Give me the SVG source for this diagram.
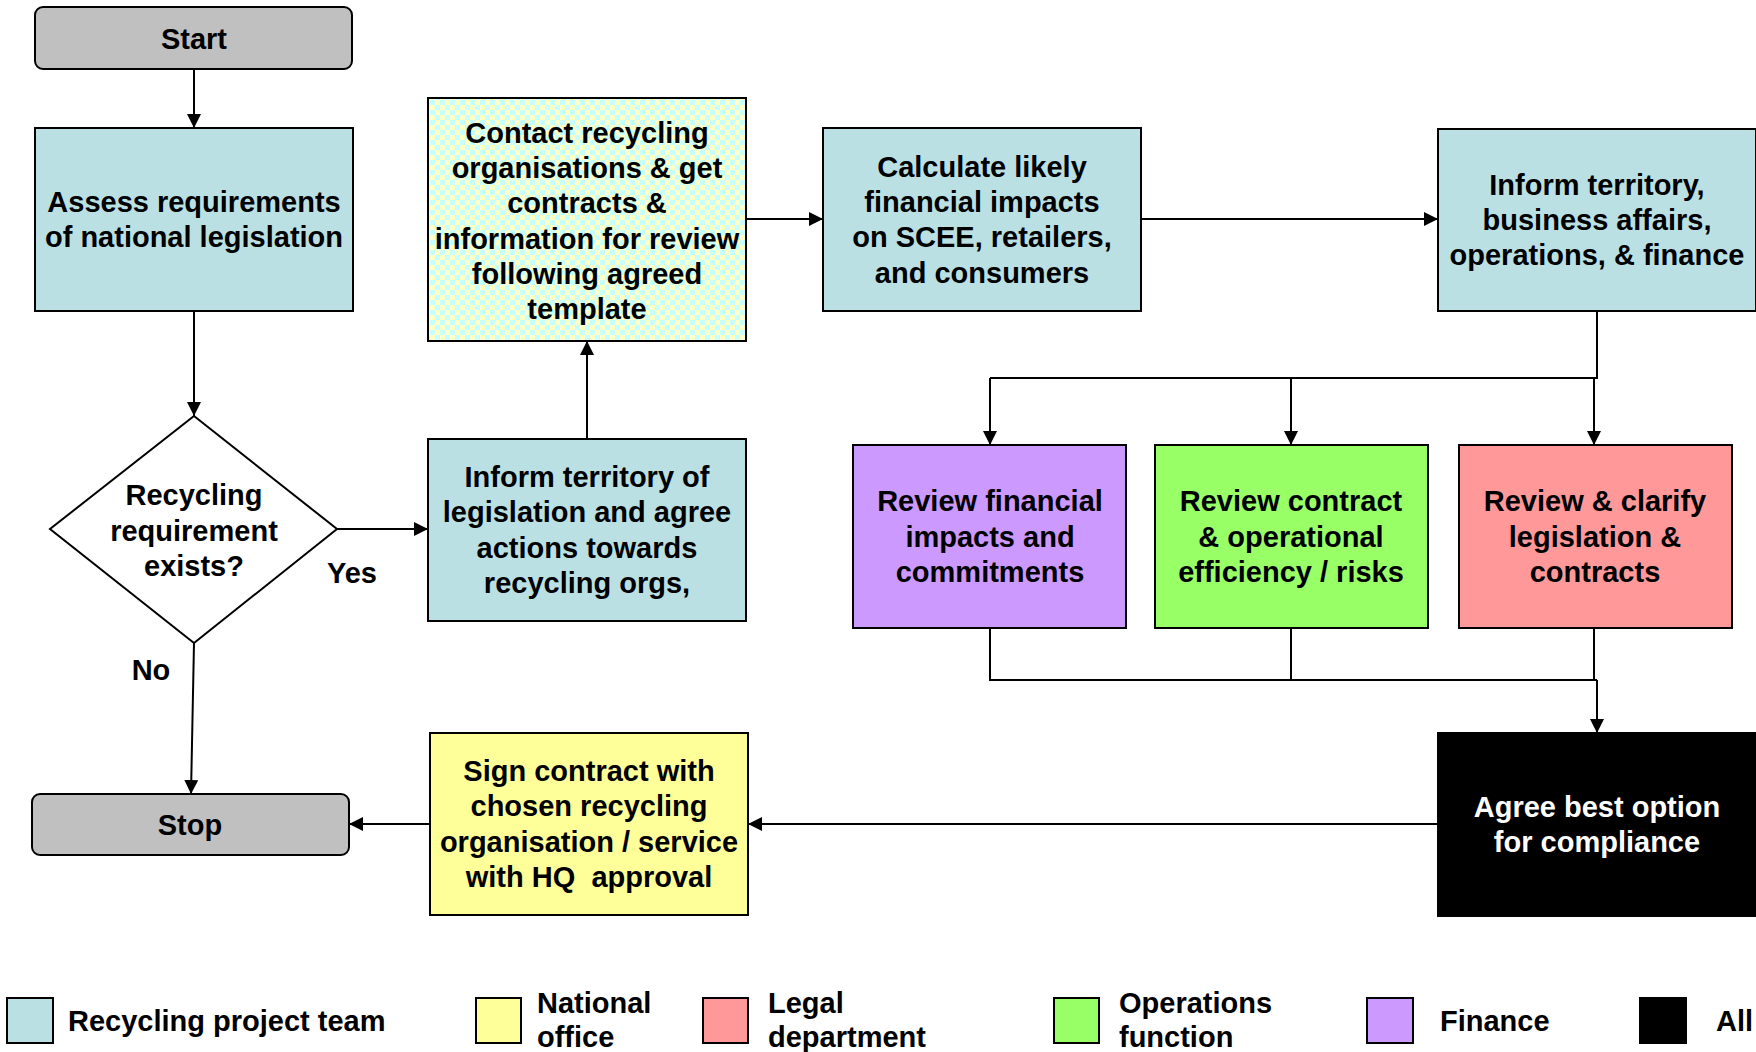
<svg xmlns="http://www.w3.org/2000/svg" width="1756" height="1052" viewBox="0 0 1756 1052">
<style>
text{font-family:"Liberation Sans",Arial,sans-serif;font-weight:bold;font-size:29px;fill:#000;text-anchor:middle}
.box{stroke:#000;stroke-width:2}
.teal{fill:#BBE0E3}
.grey{fill:#C0C0C0}
.purple{fill:#CC99FF}
.green{fill:#99FF66}
.red{fill:#FF9999}
.yellow{fill:#FFFF99}
.black{fill:#000}
.wt{fill:#fff}
.lg{text-anchor:start}
.con path{fill:none;stroke:#000;stroke-width:2}
.arr{marker-end:url(#ah)}
</style>
<defs>
<marker id="ah" viewBox="0 0 14 14" refX="14" refY="7" markerWidth="14" markerHeight="14" markerUnits="userSpaceOnUse" orient="auto">
<path d="M0,0 L14,7 L0,14 z" fill="#000"/>
</marker>
<pattern id="chk" width="10" height="10" patternUnits="userSpaceOnUse">
<rect width="10" height="10" fill="#FFFFC6"/>
<rect width="5" height="5" fill="#C6FFFF"/>
<rect x="5" y="5" width="5" height="5" fill="#C6FFFF"/>
</pattern>
</defs>
<rect width="1756" height="1052" fill="#fff"/>

<g id="connectors" class="con">
<path class="arr" d="M194,69 L194,128"/>
<path class="arr" d="M194,311 L194,416"/>
<path class="arr" d="M337,529 L428,529"/>
<path class="arr" d="M587,439 L587,341"/>
<path class="arr" d="M746,219 L823,219"/>
<path class="arr" d="M1141,219 L1438,219"/>
<path d="M1597,311 L1597,378 L990,378"/>
<path class="arr" d="M990,378 L990,445"/>
<path class="arr" d="M1291,378 L1291,445"/>
<path class="arr" d="M1594,378 L1594,445"/>
<path d="M990,628 L990,680 L1597,680"/>
<path d="M1291,628 L1291,680"/>
<path d="M1594,628 L1594,680"/>
<path class="arr" d="M1597,680 L1597,733"/>
<path class="arr" d="M1438,824 L748,824"/>
<path class="arr" d="M430,824 L349,824"/>
<path class="arr" d="M194,643 L191,794"/>
<text x="352" y="583">Yes</text>
<text x="151" y="680">No</text>
</g>

<g id="start">
<rect class="box grey" x="35" y="7" width="317" height="62" rx="8"/>
<text x="194" y="49">Start</text>
</g>

<g id="assess">
<rect class="box teal" x="35" y="128" width="318" height="183"/>
<text x="194" y="212">Assess requirements</text>
<text x="194" y="247">of national legislation</text>
</g>

<g id="decision">
<polygon class="box" fill="#fff" points="194,416 337,529 194,643 50,529"/>
<text x="194" y="505">Recycling</text>
<text x="194" y="541">requirement</text>
<text x="194" y="576">exists?</text>
</g>

<g id="inform-legislation">
<rect class="box teal" x="428" y="439" width="318" height="182"/>
<text x="587" y="487">Inform territory of</text>
<text x="587" y="522">legislation and agree</text>
<text x="587" y="558">actions towards</text>
<text x="587" y="593">recycling orgs,</text>
</g>

<g id="contact">
<rect class="box" fill="url(#chk)" x="428" y="98" width="318" height="243"/>
<text x="587" y="143">Contact recycling</text>
<text x="587" y="178">organisations &amp; get</text>
<text x="587" y="213">contracts &amp; </text>
<text x="587" y="249">information for review</text>
<text x="587" y="284">following agreed</text>
<text x="587" y="319">template</text>
</g>

<g id="calculate">
<rect class="box teal" x="823" y="128" width="318" height="183"/>
<text x="982" y="177">Calculate likely</text>
<text x="982" y="212">financial impacts</text>
<text x="982" y="247">on SCEE, retailers,</text>
<text x="982" y="283">and consumers</text>
</g>

<g id="inform-all">
<rect class="box teal" x="1438" y="129" width="318" height="182"/>
<text x="1597" y="195">Inform territory,</text>
<text x="1597" y="230">business affairs,</text>
<text x="1597" y="265">operations, &amp; finance</text>
</g>

<g id="review-financial">
<rect class="box purple" x="853" y="445" width="273" height="183"/>
<text x="990" y="511">Review financial</text>
<text x="990" y="547">impacts and</text>
<text x="990" y="582">commitments</text>
</g>

<g id="review-contract">
<rect class="box green" x="1155" y="445" width="273" height="183"/>
<text x="1291" y="511">Review contract</text>
<text x="1291" y="547">&amp; operational</text>
<text x="1291" y="582">efficiency / risks</text>
</g>

<g id="review-legal">
<rect class="box red" x="1459" y="445" width="273" height="183"/>
<text x="1595" y="511">Review &amp; clarify</text>
<text x="1595" y="547">legislation &amp;</text>
<text x="1595" y="582">contracts</text>
</g>

<g id="agree">
<rect class="box black" x="1438" y="733" width="318" height="183"/>
<text class="wt" x="1597" y="817">Agree best option</text>
<text class="wt" x="1597" y="852">for compliance</text>
</g>

<g id="sign">
<rect class="box yellow" x="430" y="733" width="318" height="182"/>
<text x="589" y="781">Sign contract with</text>
<text x="589" y="816">chosen recycling</text>
<text x="589" y="852">organisation / service</text>
<text x="589" y="887" xml:space="preserve">with HQ  approval</text>
</g>

<g id="stop">
<rect class="box grey" x="32" y="794" width="317" height="61" rx="8"/>
<text x="190" y="835">Stop</text>
</g>

<g id="legend">
<rect class="box teal" x="7" y="998" width="46" height="45"/>
<text class="lg" x="68" y="1031">Recycling project team</text>
<rect class="box yellow" x="476" y="998" width="45" height="45"/>
<text class="lg" x="537" y="1013">National</text>
<text class="lg" x="537" y="1047">office</text>
<rect class="box red" x="703" y="998" width="45" height="45"/>
<text class="lg" x="768" y="1013">Legal</text>
<text class="lg" x="768" y="1047">department</text>
<rect class="box green" x="1054" y="998" width="45" height="45"/>
<text class="lg" x="1119" y="1013">Operations</text>
<text class="lg" x="1119" y="1047">function</text>
<rect class="box purple" x="1367" y="998" width="46" height="45"/>
<text class="lg" x="1440" y="1031">Finance</text>
<rect class="box black" x="1640" y="998" width="46" height="45"/>
<text class="lg" x="1716" y="1031">All</text>
</g>
</svg>
